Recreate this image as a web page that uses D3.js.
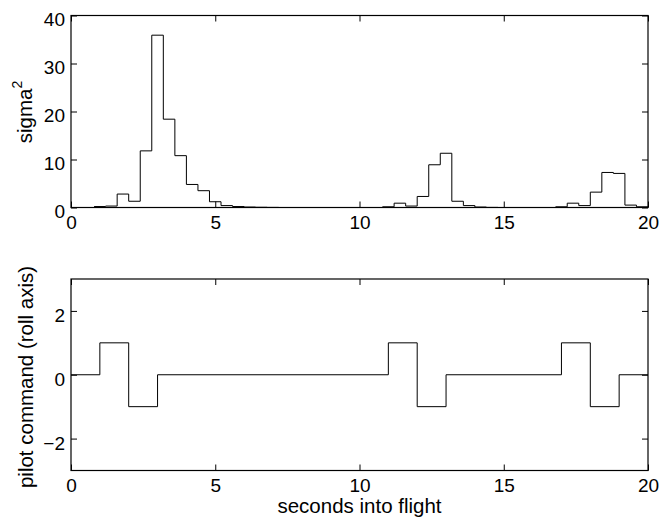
<!DOCTYPE html>
<meta charset="utf-8">
<style>
body { margin: 0; background: #fff; }
text { font-family: "Liberation Sans", Arial, Helvetica, sans-serif; fill: #000; }
</style>
<body>
<script src="https://d3js.org/d3.v7.min.js"></script>
<script>
// top panel: sigma^2 histogram (stairs), change points and level after each
var sigmaTimes  = [0.8, 1.2, 1.6, 2.0, 2.4, 2.8, 3.2, 3.6, 4.0, 4.4, 4.8, 5.2, 5.6, 6.0, 6.4, 6.8, 7.2,
                   10.8, 11.2, 11.6, 12.0, 12.4, 12.8, 13.2, 13.6, 14.0, 14.4, 14.8,
                   16.8, 17.2, 17.6, 18.0, 18.4, 18.8, 19.2, 19.6, 20.0];
var sigmaValues = [0.2, 0.3, 2.8, 1.3, 11.8, 35.9, 18.4, 10.8, 4.8, 3.5, 1.2, 0.4, 0.2, 0.1, 0.05, 0.02, 0,
                   0.15, 0.9, 0.3, 2.3, 8.9, 11.3, 1.3, 0.4, 0.1, 0.02, 0,
                   0.15, 0.9, 0.4, 3.2, 7.3, 7.1, 0.5, 0.15, 0.15];

// bottom panel: pilot command steps
var cmdTimes  = [0, 1, 2, 3, 11, 12, 13, 17, 18, 19, 20];
var cmdValues = [0, 1, -1, 0, 1, -1, 0, 1, -1, 0, 0];

var xTicks = [0, 5, 10, 15, 20];
var sigmaTicks = [0, 10, 20, 30, 40];
var cmdTicks = [-2, 0, 2];

var W = 671, H = 518;
var svg = d3.select("body").append("svg").attr("width", W).attr("height", H);

var x = d3.scaleLinear().domain([0, 20]).range([71, 648]);

function panel(top, bottom, yDomain, yTicks, times, values, labelX, labelY) {
  var y = d3.scaleLinear().domain(yDomain).range([bottom, top]);
  var g = svg.append("g");
  var ts = 6;

  g.append("g").attr("transform", "translate(0," + bottom + ")")
    .call(d3.axisBottom(x).tickValues(xTicks).tickSizeInner(-ts).tickSizeOuter(0).tickPadding(8));
  g.append("g").attr("transform", "translate(0," + top + ")")
    .call(d3.axisTop(x).tickValues(xTicks).tickSizeInner(-ts).tickSizeOuter(0).tickFormat(""));
  var ay = g.append("g").attr("transform", "translate(71,0)")
    .call(d3.axisLeft(y).tickValues(yTicks).tickSizeInner(-ts).tickSizeOuter(0).tickPadding(6)
      .tickFormat(function(d){ return d < 0 ? "\u2212" + Math.abs(d) : d; }));
  g.append("g").attr("transform", "translate(648,0)")
    .call(d3.axisRight(y).tickValues(yTicks).tickSizeInner(-ts).tickSizeOuter(0).tickFormat(""));

  g.selectAll(".domain").remove();
  g.selectAll(".tick line").attr("stroke", "#000");
  g.selectAll(".tick text").attr("font-size", 19).attr("font-family", null);
  ay.selectAll(".tick text").attr("dy", "0.55em");

  var pts = times.map(function(t, i){ return [t, values[i]]; });
  var line = d3.line().x(function(d){ return x(d[0]); }).y(function(d){ return y(d[1]); })
    .curve(d3.curveStepAfter);
  g.append("path").attr("d", line(pts)).attr("fill", "none").attr("stroke", "#000").attr("stroke-width", 1);

  g.append("rect").attr("x", 71).attr("y", top).attr("width", 648 - 71).attr("height", bottom - top)
    .attr("fill", "none").attr("stroke", "#000").attr("stroke-width", 1.2);

  return g.append("text").attr("transform", "translate(" + labelX + "," + labelY + ") rotate(-90)")
    .attr("text-anchor", "middle").attr("font-size", 20.5);
}

var t1 = panel(15.5, 207.5, [0, 40], sigmaTicks, sigmaTimes, sigmaValues, 32, 112);
t1.append("tspan").text("sigma");
t1.append("tspan").attr("font-size", 14).attr("dy", "-0.75em").text("2");

var t2 = panel(279, 470.5, [-3, 3], cmdTicks, cmdTimes, cmdValues, 33, 377);
t2.text("pilot command (roll axis)");

svg.append("text").attr("x", x(10)).attr("y", 513).attr("text-anchor", "middle")
  .attr("font-size", 20.5).text("seconds into flight");
</script>
</body>
